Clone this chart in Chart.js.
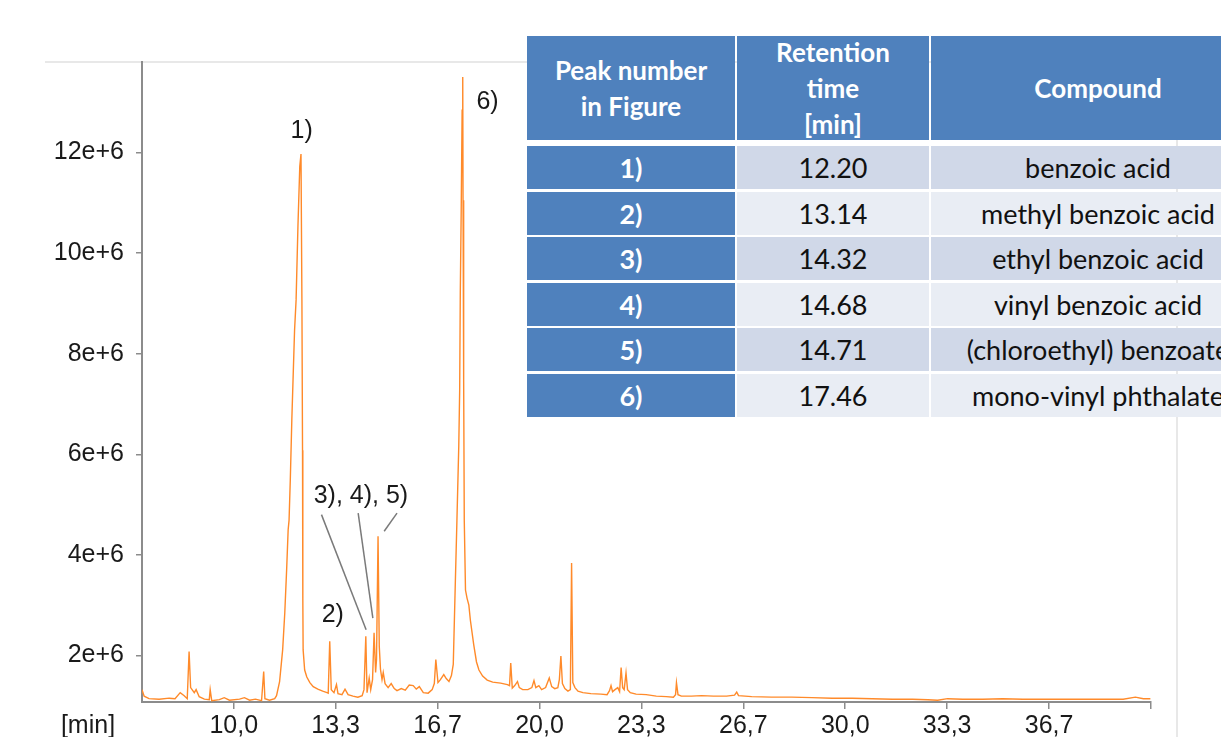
<!DOCTYPE html>
<html>
<head>
<meta charset="utf-8">
<script src="https://cdn.jsdelivr.net/npm/chart.js@4.4.1/dist/chart.umd.min.js"></script>
<style>
  html, body { margin: 0; padding: 0; background: #fff; overflow: hidden; }
  #wrap { position: relative; width: 1221px; height: 737px; overflow: hidden; }
  #chartBox { position: absolute; left: 0; top: 0; width: 1221px; height: 737px; }
  .frameTop { position: absolute; left: 45px; top: 61px; width: 1133px; height: 0; border-top: 2px solid #e8e8e8; }
  .frameRight { position: absolute; left: 1176px; top: 61px; width: 0; height: 700px; border-left: 2px solid #e8e8e8; }
  .cell { position: absolute; box-sizing: border-box; display: flex; align-items: center; justify-content: center; text-align: center; font-family: Lato, "Noto Sans", sans-serif; white-space: nowrap; }
  .head { background: #4f81bd; color: #fff; font-weight: bold; font-size: 26px; line-height: 36px; }
  .num { background: #4f81bd; color: #fff; font-weight: bold; font-size: 27px; }
  .odd { background: #d0d8e8; color: #111; font-size: 27px; }
  .even { background: #e9edf4; color: #111; font-size: 27px; }
</style>
</head>
<body>
<div id="wrap">
  <div class="frameTop"></div>
  <div class="frameRight"></div>
  <div id="chartBox"><canvas id="c"></canvas></div>
  <div id="table"></div>
</div>
<script>
// ---- chromatogram trace (retention time in min, signal in units of 1e6) ----
const retentionTimeMin = [
  7.00, 7.07, 7.23, 7.56, 7.89, 8.08, 8.25, 8.38, 8.48, 8.54, 8.59, 8.71, 8.77, 8.87, 9.04, 9.20, 9.23, 9.28, 9.53, 9.69,
  9.86, 10.19, 10.35, 10.52, 10.71, 10.91, 10.98, 11.02, 11.17, 11.34, 11.40, 11.50, 11.60, 11.67, 11.73, 11.78, 11.81, 11.85, 11.90, 11.94,
  11.99, 12.04, 12.10, 12.16, 12.20, 12.23, 12.25, 12.26, 12.27, 12.32, 12.39, 12.49, 12.60, 12.75, 12.91, 13.05, 13.09, 13.14, 13.19, 13.28,
  13.36, 13.41, 13.54, 13.64, 13.74, 13.90, 14.06, 14.20, 14.26, 14.32, 14.36, 14.43, 14.48, 14.54, 14.59, 14.64, 14.67, 14.72, 14.76, 14.80,
  14.85, 14.89, 14.95, 15.05, 15.15, 15.25, 15.34, 15.48, 15.61, 15.74, 15.87, 15.97, 16.07, 16.20, 16.36, 16.49, 16.56, 16.61, 16.68, 16.76,
  16.87, 16.95, 17.04, 17.12, 17.18, 17.25, 17.30, 17.36, 17.39, 17.41, 17.44, 17.47, 17.49, 17.50, 17.52, 17.54, 17.58, 17.63, 17.69, 17.74,
  17.85, 17.94, 18.02, 18.14, 18.29, 18.47, 18.73, 18.95, 19.02, 19.06, 19.11, 19.19, 19.28, 19.34, 19.45, 19.62, 19.75, 19.82, 19.88, 19.98,
  20.07, 20.20, 20.32, 20.40, 20.50, 20.60, 20.65, 20.70, 20.75, 20.83, 20.93, 21.01, 21.05, 21.09, 21.16, 21.26, 21.42, 21.68, 22.01, 22.21,
  22.29, 22.34, 22.39, 22.47, 22.56, 22.62, 22.67, 22.72, 22.77, 22.83, 22.88, 22.97, 23.16, 23.49, 23.82, 24.15, 24.38, 24.45, 24.48, 24.53,
  24.64, 24.97, 25.30, 25.69, 26.12, 26.38, 26.45, 26.51, 26.94, 27.59, 28.25, 28.91, 29.57, 30.23, 30.88, 31.54, 32.20, 32.70, 33.02, 33.35,
  33.84, 34.50, 35.15, 35.81, 36.47, 37.12, 37.78, 38.44, 39.09, 39.49, 39.75, 39.98
];
const signalE6 = [
  1.32, 1.19, 1.14, 1.13, 1.15, 1.14, 1.26, 1.20, 1.14, 2.08, 1.36, 1.26, 1.32, 1.18, 1.13, 1.12, 1.32, 1.10, 1.12, 1.16,
  1.11, 1.13, 1.16, 1.11, 1.13, 1.10, 1.68, 1.14, 1.11, 1.14, 1.20, 1.48, 2.11, 2.85, 3.70, 4.50, 4.69, 5.49, 6.68, 7.48,
  8.47, 9.07, 10.53, 11.72, 11.97, 9.07, 6.08, 3.10, 2.11, 1.71, 1.57, 1.46, 1.38, 1.33, 1.29, 1.26, 1.25, 2.28, 1.32, 1.26,
  1.42, 1.24, 1.22, 1.33, 1.22, 1.19, 1.17, 1.20, 1.32, 2.38, 1.26, 1.55, 1.32, 1.52, 2.45, 1.66, 1.92, 4.37, 2.18, 1.72,
  1.52, 1.66, 1.44, 1.36, 1.44, 1.34, 1.30, 1.34, 1.31, 1.41, 1.40, 1.33, 1.38, 1.26, 1.25, 1.32, 1.44, 1.92, 1.46, 1.52,
  1.62, 1.54, 1.48, 1.60, 1.82, 3.51, 4.69, 6.16, 7.28, 9.21, 10.85, 12.84, 13.50, 11.05, 7.48, 4.69, 3.30, 3.14, 3.00, 2.70,
  2.21, 1.87, 1.71, 1.59, 1.51, 1.47, 1.45, 1.42, 1.40, 1.85, 1.35, 1.40, 1.48, 1.36, 1.32, 1.32, 1.36, 1.50, 1.36, 1.40,
  1.32, 1.36, 1.55, 1.38, 1.34, 1.36, 1.52, 1.99, 1.44, 1.34, 1.29, 1.32, 3.84, 1.46, 1.36, 1.29, 1.26, 1.24, 1.23, 1.22,
  1.30, 1.40, 1.28, 1.32, 1.36, 1.28, 1.76, 1.36, 1.32, 1.65, 1.32, 1.26, 1.23, 1.22, 1.19, 1.18, 1.17, 1.22, 1.46, 1.22,
  1.19, 1.19, 1.20, 1.19, 1.19, 1.21, 1.27, 1.20, 1.18, 1.17, 1.17, 1.16, 1.15, 1.15, 1.14, 1.13, 1.13, 1.12, 1.11, 1.14,
  1.13, 1.13, 1.14, 1.13, 1.13, 1.13, 1.13, 1.13, 1.13, 1.17, 1.14, 1.14
];

// ---- axis ticks ----
const xTickValues = [10, 13.3333, 16.6667, 20, 23.3333, 26.6667, 30, 33.3333, 36.6667, 40];
const xTickLabels = ['10,0', '13,3', '16,7', '20,0', '23,3', '26,7', '30,0', '33,3', '36,7', ''];
const yTickValues = [2, 4, 6, 8, 10, 12];
const yTickLabels = ['2e+6', '4e+6', '6e+6', '8e+6', '10e+6', '12e+6'];
const xAxisUnit = '[min]';

// ---- peak annotations (text + anchor in data units) ----
const peakLabelTexts = ['1)', '2)', '3), 4), 5)', '6)'];
const peakLabelTimes = [12.22, 13.24, 14.16, 18.30];
const peakLabelSignals = [12.42, 2.81, 5.16, 13.01];
// leader lines: [t1, v1, t2, v2]
const leaderLines = [
  [12.87, 4.80, 14.33, 2.51],
  [14.07, 4.83, 14.55, 2.74],
  [15.34, 4.83, 14.92, 4.47]
];

// ---- table ----
const tableHeaders = ['Peak number<br>in Figure', 'Retention<br>time<br>[min]', 'Compound'];
const peakNumbers = ['1)', '2)', '3)', '4)', '5)', '6)'];
const peakRetention = ['12.20', '13.14', '14.32', '14.68', '14.71', '17.46'];
const compounds = ['benzoic acid', 'methyl benzoic acid', 'ethyl benzoic acid', 'vinyl benzoic acid', '(chloroethyl) benzoate', 'mono-vinyl phthalate'];

// build table
(function buildTable() {
  const colX = [527, 737, 931];
  const colW = [208, 192, 334];
  const t = document.getElementById('table');
  let html = '';
  tableHeaders.forEach((h, i) => {
    html += `<div class="cell head" style="left:${colX[i]}px;top:36px;width:${colW[i]}px;height:104px;">${h}</div>`;
  });
  peakNumbers.forEach((p, r) => {
    const top = 146 + r * 45.6;
    const cls = r % 2 === 0 ? 'odd' : 'even';
    const vals = [p, peakRetention[r], compounds[r]];
    vals.forEach((v, i) => {
      const c = i === 0 ? 'num' : cls;
      html += `<div class="cell ${c}" style="left:${colX[i]}px;top:${top}px;width:${colW[i]}px;height:43px;">${v}</div>`;
    });
  });
  t.innerHTML = html;
})();

const FONT = '"Liberation Sans", Arial, sans-serif';

const annotationPlugin = {
  id: 'peakNotes',
  afterDatasetsDraw(chart) {
    const ctx = chart.ctx;
    const xs = chart.scales.x, ys = chart.scales.y;
    ctx.save();
    ctx.strokeStyle = '#7a7a7a';
    ctx.lineWidth = 1.5;
    leaderLines.forEach(l => {
      ctx.beginPath();
      ctx.moveTo(xs.getPixelForValue(l[0]), ys.getPixelForValue(l[1]));
      ctx.lineTo(xs.getPixelForValue(l[2]), ys.getPixelForValue(l[3]));
      ctx.stroke();
    });
    ctx.fillStyle = '#1a1a1a';
    ctx.font = '25px ' + FONT;
    ctx.textAlign = 'center';
    ctx.textBaseline = 'middle';
    peakLabelTexts.forEach((txt, i) => {
      ctx.fillText(txt, xs.getPixelForValue(peakLabelTimes[i]), ys.getPixelForValue(peakLabelSignals[i]));
    });
    // unit label left of x tick labels
    ctx.textAlign = 'center';
    ctx.fillText(xAxisUnit, chart.chartArea.left - 54, chart.chartArea.bottom + 24);
    ctx.restore();
  }
};

new Chart(document.getElementById('c'), {
  type: 'line',
  data: {
    datasets: [{
      data: retentionTimeMin.map((t, i) => ({ x: t, y: signalE6[i] })),
      borderColor: '#ff8a2a',
      borderWidth: 1.4,
      pointRadius: 0,
      tension: 0,
      fill: false
    }]
  },
  options: {
    responsive: true,
    maintainAspectRatio: false,
    animation: false,
    layout: { padding: { left: 0, top: 62, right: 70, bottom: 0 } },
    plugins: { legend: { display: false }, tooltip: { enabled: false } },
    scales: {
      x: {
        type: 'linear',
        min: 7.0,
        max: 40.0,
        afterFit: s => { s.height = 35; },
        afterBuildTicks: s => { s.ticks = xTickValues.map(v => ({ value: v })); },
        ticks: {
          autoSkip: false,
          maxRotation: 0,
          padding: 2,
          color: '#1a1a1a',
          font: { family: FONT, size: 25 },
          callback: (v, i) => xTickLabels[i]
        },
        grid: { display: true, drawOnChartArea: false, drawTicks: true, tickLength: 7, color: '#8c8c8c', lineWidth: 1.5 },
        border: { display: true, color: '#8c8c8c', width: 2 }
      },
      y: {
        type: 'linear',
        min: 1.074,
        max: 13.80,
        afterFit: s => { s.width = 142; },
        afterBuildTicks: s => { s.ticks = yTickValues.map(v => ({ value: v })); },
        ticks: {
          autoSkip: false,
          padding: 12,
          color: '#1a1a1a',
          font: { family: FONT, size: 25 },
          callback: (v, i) => yTickLabels[i]
        },
        grid: { display: true, drawOnChartArea: false, drawTicks: true, tickLength: 6, color: '#8c8c8c', lineWidth: 1.5 },
        border: { display: true, color: '#8c8c8c', width: 2 }
      }
    }
  },
  plugins: [annotationPlugin]
});
</script>
</body>
</html>
